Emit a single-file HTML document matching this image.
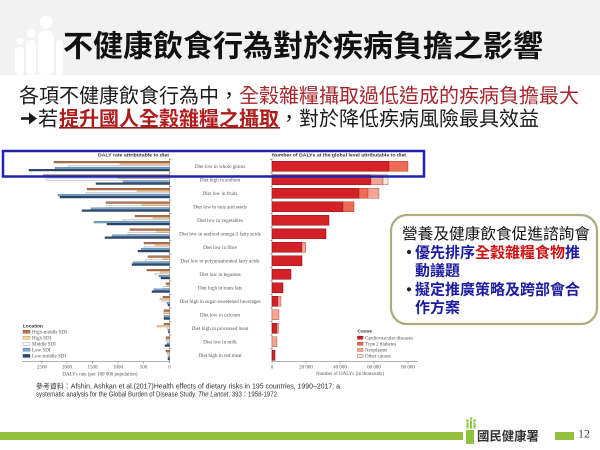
<!DOCTYPE html>
<html><head><meta charset="utf-8"><style>
html,body{margin:0;padding:0;background:#fff;}
svg{display:block;}
.cjk{font-family:"Liberation Sans","Noto Sans CJK TC",sans-serif;}
.lab{font-family:"Liberation Serif",serif;font-size:5.1px;fill:#555;text-anchor:middle;}
.tk{font-family:"Liberation Serif",serif;font-size:5px;fill:#555;text-anchor:middle;}
.lg{font-family:"Liberation Serif",serif;font-size:5px;fill:#555;}
.hd{font-family:"Liberation Sans",sans-serif;font-size:4.8px;font-weight:bold;fill:#333;}
.b0{fill:#b9774f;stroke:#7a452a;stroke-width:.4}
.b1{fill:#f1d3a8;stroke:#c98f55;stroke-width:.4}
.b2{fill:#ffffff;stroke:#8a96a4;stroke-width:.4}
.b3{fill:#7ea7cb;stroke:#4d7399;stroke-width:.4}
.b4{fill:#2d4b73;stroke:#1a2d4a;stroke-width:.4}
.cv{fill:#d42027;stroke:#7d1214;stroke-width:.5}
.di{fill:#ef6a55;stroke:#9b2a20;stroke-width:.4}
.ne{fill:#f4a595;stroke:#a0453a;stroke-width:.4}
.ot{fill:#fbe4dc;stroke:#8a4a40;stroke-width:.4}
</style></head><body>
<svg width="600" height="450" viewBox="0 0 600 450" xmlns="http://www.w3.org/2000/svg">
<rect width="600" height="450" fill="#fff"/>
<rect x="0" y="0" width="600" height="75" fill="#f2f2f2"/>
<g fill="#fff">
<circle cx="46" cy="22" r="6.5"/>
<rect x="38" y="31" width="16" height="44" rx="6"/>
<circle cx="31" cy="33" r="4.5"/>
<rect x="26" y="40" width="10" height="35" rx="4"/>
<circle cx="20" cy="41" r="3.5"/>
<rect x="15" y="47" width="9" height="28" rx="3.5"/>
<rect x="56" y="40" width="7" height="35" rx="3"/>
</g>
<text class="cjk" x="63" y="56.4" font-size="30" font-weight="bold" fill="#111" textLength="480" lengthAdjust="spacingAndGlyphs">不健康飲食行為對於疾病負擔之影響</text>

<text class="cjk" x="19" y="102.6" font-size="20" fill="#1a1a1a">各項不健康飲食行為中</text>
<text class="cjk" x="219" y="102.6" font-size="20" fill="#1a1a1a">，</text>
<text class="cjk" x="239" y="102.6" font-size="20" fill="#a3272c">全穀雜糧攝取過低造成的疾病負擔最大</text>

<path d="M21 118.5H31" stroke="#1a1a1a" stroke-width="2.6" fill="none"/>
<path d="M29 112.5L37 118.5L29 124.5Z" fill="#1a1a1a"/>
<text class="cjk" x="38" y="125.6" font-size="20" fill="#1a1a1a">若</text>
<text class="cjk" x="59" y="125.6" font-size="20" font-weight="bold" fill="#b01c1c">提升國人全穀雜糧之攝取</text>
<rect x="59" y="127" width="221" height="1.6" fill="#8a1c1c"/>
<text class="cjk" x="279" y="125.6" font-size="20" fill="#1a1a1a">，對於降低疾病風險最具效益</text>

<!-- chart titles -->
<text class="hd" x="98" y="156.6" textLength="71" lengthAdjust="spacingAndGlyphs">DALY rate attributable to diet</text>
<text class="hd" x="272" y="156.6" textLength="134" lengthAdjust="spacingAndGlyphs">Number of DALYs at the global level attributable to diet</text>

<!-- axes -->
<g stroke="#666" stroke-width=".5" fill="none">
<path d="M169.5 158V361.5M22 361.5H169.5M42 361.5v2M67 361.5v2M92.5 361.5v2M118 361.5v2M143.5 361.5v2M169.5 361.5v2"/>
<path d="M169.5 159.5h2M169.5 173h2M169.5 186.5h2M169.5 200h2M169.5 213.5h2M169.5 227h2M169.5 240.5h2M169.5 254h2M169.5 267.5h2M169.5 281h2M169.5 294.5h2M169.5 308h2M169.5 321.5h2M169.5 335h2M169.5 348.5h2"/>
<path d="M272 158V361.5M272 361.5H418M272 361.5v2M306 361.5v2M340 361.5v2M374 361.5v2M408 361.5v2"/>
<path d="M270 159.5h2M270 173h2M270 186.5h2M270 200h2M270 213.5h2M270 227h2M270 240.5h2M270 254h2M270 267.5h2M270 281h2M270 294.5h2M270 308h2M270 321.5h2M270 335h2M270 348.5h2"/>
</g>

<!-- left bars -->
<g>
<rect class="b0" x="54" y="161.3" width="115.5" height="1.7"/><rect class="b1" x="120" y="163.3" width="49.5" height="1.7"/><rect class="b2" x="68" y="165.3" width="101.5" height="1.7"/><rect class="b3" x="55" y="167.3" width="114.5" height="1.7"/><rect class="b4" x="29" y="169.3" width="140.5" height="1.7"/>
<rect class="b0" x="43" y="174.8" width="126.5" height="1.7"/><rect class="b1" x="118" y="176.8" width="51.5" height="1.7"/><rect class="b2" x="46" y="178.8" width="123.5" height="1.7"/><rect class="b3" x="123" y="180.8" width="46.5" height="1.7"/><rect class="b4" x="96" y="182.8" width="73.5" height="1.7"/>
<rect class="b0" x="87" y="188.3" width="82.5" height="1.7"/><rect class="b1" x="137" y="190.3" width="32.5" height="1.7"/><rect class="b2" x="86" y="192.3" width="83.5" height="1.7"/><rect class="b3" x="58" y="194.3" width="111.5" height="1.7"/><rect class="b4" x="60" y="196.3" width="109.5" height="1.7"/>
<rect class="b0" x="106" y="201.8" width="63.5" height="1.7"/><rect class="b1" x="142" y="203.8" width="27.5" height="1.7"/><rect class="b2" x="106" y="205.8" width="63.5" height="1.7"/><rect class="b3" x="91" y="207.8" width="78.5" height="1.7"/><rect class="b4" x="82" y="209.8" width="87.5" height="1.7"/>
<rect class="b0" x="135" y="215.3" width="34.5" height="1.7"/><rect class="b1" x="153" y="217.3" width="16.5" height="1.7"/><rect class="b2" x="123" y="219.3" width="46.5" height="1.7"/><rect class="b3" x="94" y="221.3" width="75.5" height="1.7"/><rect class="b4" x="107" y="223.3" width="62.5" height="1.7"/>
<rect class="b0" x="130" y="228.8" width="39.5" height="1.7"/><rect class="b1" x="157" y="230.8" width="12.5" height="1.7"/><rect class="b2" x="128" y="232.8" width="41.5" height="1.7"/><rect class="b3" x="112" y="234.8" width="57.5" height="1.7"/><rect class="b4" x="105" y="236.8" width="64.5" height="1.7"/>
<rect class="b0" x="144" y="242.3" width="25.5" height="1.7"/><rect class="b1" x="155" y="244.3" width="14.5" height="1.7"/><rect class="b2" x="144" y="246.3" width="25.5" height="1.7"/><rect class="b3" x="141" y="248.3" width="28.5" height="1.7"/><rect class="b4" x="138" y="250.3" width="31.5" height="1.7"/>
<rect class="b0" x="148" y="255.8" width="21.5" height="1.7"/><rect class="b1" x="163" y="257.8" width="6.5" height="1.7"/><rect class="b2" x="145" y="259.8" width="24.5" height="1.7"/><rect class="b3" x="133" y="261.8" width="36.5" height="1.7"/><rect class="b4" x="132" y="263.8" width="37.5" height="1.7"/>
<rect class="b0" x="147" y="269.3" width="22.5" height="1.7"/><rect class="b1" x="160" y="271.3" width="9.5" height="1.7"/><rect class="b2" x="155" y="273.3" width="14.5" height="1.7"/><rect class="b3" x="159" y="275.3" width="10.5" height="1.7"/><rect class="b4" x="161" y="277.3" width="8.5" height="1.7"/>
<rect class="b0" x="166" y="282.8" width="3.5" height="1.7"/><rect class="b1" x="167" y="284.8" width="2.5" height="1.7"/><rect class="b2" x="163" y="286.8" width="6.5" height="1.7"/><rect class="b3" x="154" y="288.8" width="15.5" height="1.7"/><rect class="b4" x="152" y="290.8" width="17.5" height="1.7"/>
<rect class="b0" x="163" y="296.3" width="6.5" height="1.7"/><rect class="b1" x="160" y="298.3" width="9.5" height="1.7"/><rect class="b2" x="162" y="300.3" width="7.5" height="1.7"/><rect class="b3" x="167" y="302.3" width="2.5" height="1.7"/><rect class="b4" x="168" y="304.3" width="1.5" height="1.7"/>
<rect class="b0" x="164" y="309.8" width="5.5" height="1.7"/><rect class="b1" x="164" y="311.8" width="5.5" height="1.7"/><rect class="b2" x="164" y="313.8" width="5.5" height="1.7"/><rect class="b3" x="164" y="315.8" width="5.5" height="1.7"/><rect class="b4" x="164" y="317.8" width="5.5" height="1.7"/>
<rect class="b0" x="164" y="323.3" width="5.5" height="1.7"/><rect class="b1" x="157" y="325.3" width="12.5" height="1.7"/><rect class="b2" x="167" y="327.3" width="2.5" height="1.7"/><rect class="b3" x="168" y="329.3" width="1.5" height="1.7"/><rect class="b4" x="168.5" y="331.3" width="1" height="1.7"/>
<rect class="b0" x="166" y="336.8" width="3.5" height="1.7"/><rect class="b1" x="166" y="338.8" width="3.5" height="1.7"/><rect class="b2" x="167" y="340.8" width="2.5" height="1.7"/><rect class="b3" x="167" y="342.8" width="2.5" height="1.7"/><rect class="b4" x="165" y="344.8" width="4.5" height="1.7"/>
<rect class="b0" x="166" y="350.3" width="3.5" height="1.7"/><rect class="b1" x="167" y="352.3" width="2.5" height="1.7"/><rect class="b2" x="168" y="354.3" width="1.5" height="1.7"/><rect class="b3" x="168" y="356.3" width="1.5" height="1.7"/><rect class="b4" x="168" y="358.3" width="1.5" height="1.7"/>
</g>

<!-- right bars -->
<g>
<rect class="cv" x="272" y="161.3" width="117" height="10"/><rect class="di" x="389" y="161.3" width="19" height="10"/>
<rect class="cv" x="272" y="174.8" width="99" height="10"/><rect class="ne" x="371" y="174.8" width="12" height="10"/><rect class="ot" x="383" y="174.8" width="5" height="10"/>
<rect class="cv" x="272" y="188.3" width="87" height="10"/><rect class="di" x="359" y="188.3" width="9" height="10"/><rect class="ne" x="368" y="188.3" width="11" height="10"/>
<rect class="cv" x="272" y="201.8" width="71" height="10"/><rect class="di" x="343" y="201.8" width="11" height="10"/>
<rect class="cv" x="272" y="215.3" width="57" height="10"/>
<rect class="cv" x="272" y="228.8" width="54" height="10"/>
<rect class="cv" x="272" y="242.3" width="30" height="10"/><rect class="ne" x="302" y="242.3" width="3.7" height="10"/>
<rect class="cv" x="272" y="255.8" width="30" height="10"/>
<rect class="cv" x="272" y="269.3" width="19" height="10"/>
<rect class="cv" x="272" y="282.8" width="11" height="10"/>
<rect class="cv" x="272" y="296.3" width="6" height="10"/><rect class="ne" x="278" y="296.3" width="3" height="10"/>
<rect class="ne" x="272" y="309.8" width="7" height="10"/>
<rect class="cv" x="272" y="323.3" width="5" height="10"/><rect class="ne" x="277" y="323.3" width="1.5" height="10"/>
<rect class="ne" x="272" y="336.8" width="5" height="10"/>
<rect class="cv" x="272" y="350.3" width="3" height="10"/>
</g>

<!-- row labels -->
<g>
<text class="lab" x="220" y="167.9">Diet low in whole grains</text>
<text class="lab" x="220" y="181.4">Diet high in sodium</text>
<text class="lab" x="220" y="194.9">Diet low in fruits</text>
<text class="lab" x="220" y="208.4">Diet low in nuts and seeds</text>
<text class="lab" x="220" y="221.9">Diet low in vegetables</text>
<text class="lab" x="220" y="235.4">Diet low in seafood omega-3 fatty acids</text>
<text class="lab" x="220" y="248.9">Diet low in fibre</text>
<text class="lab" x="220" y="262.4">Diet low in polyunsaturated fatty acids</text>
<text class="lab" x="220" y="275.9">Diet low in legumes</text>
<text class="lab" x="220" y="289.4">Diet high in trans fats</text>
<text class="lab" x="220" y="302.9">Diet high in sugar-sweetened beverages</text>
<text class="lab" x="220" y="316.4">Diet low in calcium</text>
<text class="lab" x="220" y="329.9">Diet high in processed meat</text>
<text class="lab" x="220" y="343.4">Diet low in milk</text>
<text class="lab" x="220" y="356.9">Diet high in red meat</text>
</g>

<!-- tick labels -->
<g>
<text class="tk" x="42" y="368.4">2500</text>
<text class="tk" x="67" y="368.4">2000</text>
<text class="tk" x="92.5" y="368.4">1500</text>
<text class="tk" x="118" y="368.4">1000</text>
<text class="tk" x="143.5" y="368.4">500</text>
<text class="tk" x="169.5" y="368.4">0</text>
<text class="tk" x="100" y="375.6">DALYs rate (per 100 000 population)</text>
<text class="tk" x="272" y="368.4">0</text>
<text class="tk" x="306" y="368.4">20 000</text>
<text class="tk" x="340" y="368.4">40 000</text>
<text class="tk" x="374" y="368.4">60 000</text>
<text class="tk" x="408" y="368.4">80 000</text>
<text class="tk" x="350" y="375">Number of DALYs (in thousands)</text>
</g>

<!-- left legend -->
<g>
<text class="hd" x="23" y="327.7" font-size="5.2">Location</text>
<rect class="b0" x="23" y="330.2" width="7" height="3"/><text class="lg" x="32" y="333.4">High-middle SDI</text>
<rect class="b1" x="23" y="336.2" width="7" height="3"/><text class="lg" x="32" y="339.4">High SDI</text>
<rect class="b2" x="23" y="342.2" width="7" height="3"/><text class="lg" x="32" y="345.4">Middle SDI</text>
<rect class="b3" x="23" y="348.2" width="7" height="3"/><text class="lg" x="32" y="351.4">Low SDI</text>
<rect class="b4" x="23" y="354.4" width="7" height="3"/><text class="lg" x="32" y="357.6">Low-middle SDI</text>
</g>
<!-- right legend -->
<g>
<text class="hd" x="357.5" y="332.7" font-size="5.2">Cause</text>
<rect class="cv" x="357.5" y="336.2" width="5.5" height="3"/><text class="lg" x="365" y="339.4">Cardiovascular diseases</text>
<rect class="di" x="357.5" y="342.2" width="5.5" height="3"/><text class="lg" x="365" y="345.4">Type 2 diabetes</text>
<rect class="ne" x="357.5" y="348.4" width="5.5" height="3"/><text class="lg" x="365" y="351.6">Neoplasms</text>
<rect class="ot" x="357.5" y="354.4" width="5.5" height="3"/><text class="lg" x="365" y="357.6">Other causes</text>
</g>

<!-- blue highlight box -->
<rect x="3" y="151" width="421" height="25.5" fill="none" stroke="#1c24b0" stroke-width="2.5"/>

<!-- callout -->
<rect x="391" y="215" width="206" height="109" rx="16" ry="16" fill="#fff" stroke="#abab7c" stroke-width="2.2"/>
<text class="cjk" x="402" y="238.9" font-size="15.6" fill="#111" textLength="188" lengthAdjust="spacingAndGlyphs">營養及健康飲食促進諮詢會</text>
<circle cx="409" cy="252" r="2.1" fill="#222"/>
<text class="cjk" x="415" y="257.4" font-size="15" font-weight="bold" fill="#1c1ca0">優先排序<tspan fill="#d01010">全穀雜糧食物</tspan>推</text>
<text class="cjk" x="415" y="275.7" font-size="15" font-weight="bold" fill="#1c1ca0">動議題</text>
<circle cx="409" cy="289.3" r="2.1" fill="#222"/>
<text class="cjk" x="415" y="294.7" font-size="15" font-weight="bold" fill="#1c1ca0">擬定推廣策略及跨部會合</text>
<text class="cjk" x="415" y="312.4" font-size="15" font-weight="bold" fill="#1c1ca0">作方案</text>

<!-- reference -->
<text class="cjk" x="36" y="388.5" font-size="7" fill="#333" textLength="304" lengthAdjust="spacingAndGlyphs">參考資料：Afshin, Ashkan et al.(2017)Health effects of dietary risks in 195 countries, 1990–2017: a</text>
<text class="cjk" x="36" y="396.5" font-size="7" fill="#333" textLength="241" lengthAdjust="spacingAndGlyphs">systematic analysis for the Global Burden of Disease Study. <tspan font-style="italic">The Lancet</tspan>, 393：1958-1972</text>

<!-- footer -->
<rect x="0" y="432" width="463" height="8" fill="#93c13e"/>
<rect x="466" y="430" width="8" height="14" fill="#8cc63f"/>
<g fill="#8cc63f">
<circle cx="467.5" cy="420.5" r="1.3"/><circle cx="471" cy="418.5" r="1.3"/><circle cx="474.5" cy="420.5" r="1.3"/>
<rect x="466.5" y="422.5" width="2" height="6"/><rect x="470" y="420.5" width="2" height="8"/><rect x="473.5" y="422.5" width="2" height="6"/>
</g>
<text class="cjk" x="477" y="440.7" font-size="12.4" font-weight="bold" fill="#333">國民健康署</text>
<rect x="555" y="432" width="19" height="8" fill="#93c13e"/>
<text x="578" y="437.5" font-family="Liberation Serif,serif" font-size="12" fill="#444">12</text>
</svg>
</body></html>
